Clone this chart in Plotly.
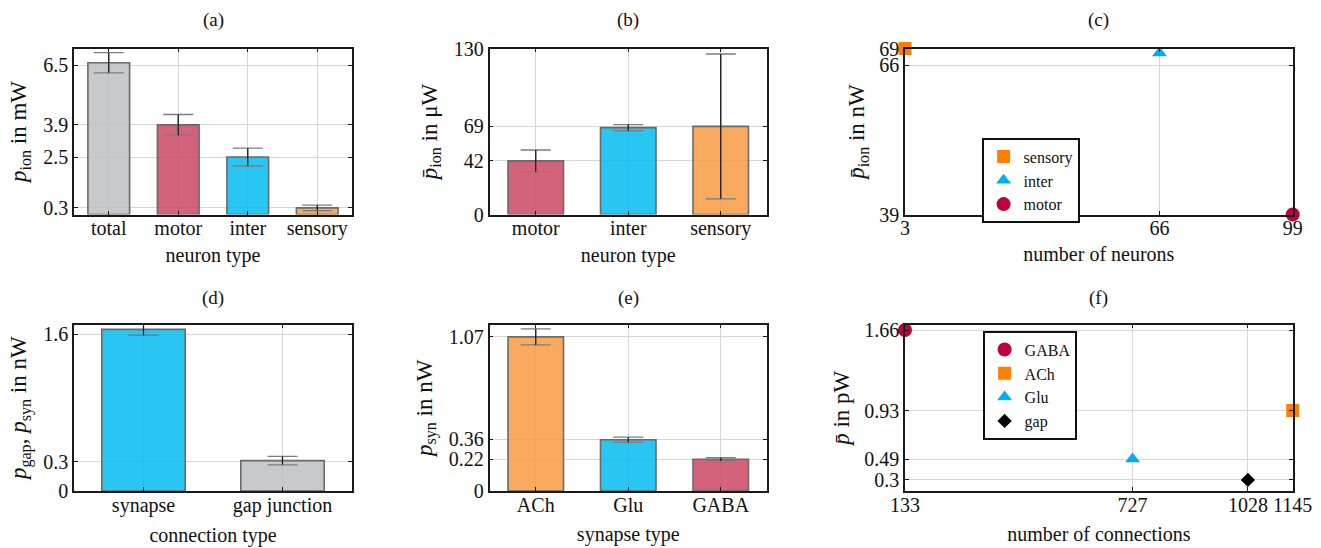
import plotly.graph_objects as go

# ---------------- data ----------------
# (a) ion power per neuron type
a_cats = ["total", "motor", "inter", "sensory"]
a_vals = [6.6, 3.9, 2.5, 0.29]
a_err = [0.44, 0.45, 0.39, 0.12]
a_ticks = [0.3, 2.5, 3.9, 6.5]

# (b) mean ion power per neuron
b_cats = ["motor", "inter", "sensory"]
b_vals = [42, 68, 69]
b_err = [8.5, 2.4, 56.7]
b_ticks = [0, 42, 69, 130]

# (c) mean ion power vs number of neurons
c_names = ["sensory", "inter", "motor"]
c_x = [3, 66, 99]
c_y = [69, 68.2, 39]
c_xticks = [3, 66, 99]
c_yticks = [39, 66, 69]

# (d) connection type
d_cats = ["synapse", "gap junction"]
d_vals = [1.65, 0.31]
d_err = [0.06, 0.043]
d_ticks = [0, 0.3, 1.6]

# (e) synapse type
e_cats = ["ACh", "Glu", "GABA"]
e_vals = [1.07, 0.356, 0.22]
e_err = [0.056, 0.018, 0.011]
e_ticks = [0, 0.22, 0.36, 1.07]

# (f) mean power vs number of connections
f_names = ["GABA", "ACh", "Glu", "gap"]
f_x = [133, 1145, 727, 1028]
f_y = [1.66, 0.93, 0.49, 0.3]
f_xticks = [133, 727, 1028, 1145]
f_yticks = [0.3, 0.49, 0.93, 1.66]

# ---------------- styles ----------------
FONT = "Liberation Serif"
OFF = 0  # page body margin removed via post_script
W, H = 1321, 548
ALPHA = 0.85


def rgba_for(display):
    r, g, b = display
    c = [max(0, min(255, round((v - (1 - ALPHA) * 255) / ALPHA))) for v in (r, g, b)]
    return f"rgba({c[0]},{c[1]},{c[2]},{ALPHA})"


BAR_GRAY = rgba_for((200, 201, 204))
BAR_PINK = rgba_for((212, 99, 122))
BAR_CYAN = rgba_for((41, 197, 243))
BAR_ORANGE = rgba_for((249, 170, 95))

M_ORANGE = "#FF8000"
M_CYAN = "#00AEEF"
M_RED = "#BE003C"
M_BLACK = "#000000"

GRID = "#d6d6d6"
EDGE = "#6b6b6b"

a_colors = [BAR_GRAY, BAR_PINK, BAR_CYAN, BAR_ORANGE]
b_colors = [BAR_PINK, BAR_CYAN, BAR_ORANGE]
d_colors = [BAR_CYAN, BAR_GRAY]
e_colors = [BAR_ORANGE, BAR_CYAN, BAR_PINK]

c_colors = [M_ORANGE, M_CYAN, M_RED]
c_symbols = ["square", "triangle-up", "circle"]
c_sizes = [13, 13, 14]
f_colors = [M_RED, M_ORANGE, M_CYAN, M_BLACK]
f_symbols = ["circle", "square", "triangle-up", "diamond"]
f_sizes = [14, 13, 13, 11]


def px_x(p):
    return (p - OFF) / W


def px_y(p):
    return 1 - (p - OFF) / H


dom_x = {
    "a": [px_x(74), px_x(352)],
    "b": [px_x(489.5), px_x(767)],
    "c": [px_x(905), px_x(1292.7)],
    "d": [px_x(74), px_x(352)],
    "e": [px_x(489.5), px_x(767)],
    "f": [px_x(905), px_x(1292.7)],
}
top_row = [px_y(214.5), px_y(48.5)]
bot_row = [px_y(491), px_y(324.5)]
dom_y = {"a": top_row, "b": top_row, "c": top_row,
         "d": bot_row, "e": bot_row, "f": bot_row}

axis_ids = {"a": ("x", "y", ""), "b": ("x2", "y2", "2"), "c": ("x3", "y3", "3"),
            "d": ("x4", "y4", "4"), "e": ("x5", "y5", "5"), "f": ("x6", "y6", "6")}

fig = go.Figure()


def add_bars(key, cats, vals, errs, colors):
    xa, ya, _ = axis_ids[key]
    fig.add_trace(go.Bar(x=cats, y=vals, width=0.6, xaxis=xa, yaxis=ya,
                         marker=dict(color=colors, line=dict(color=EDGE, width=1.6)),
                         showlegend=False, hoverinfo="skip"))
    # caps (gray)
    fig.add_trace(go.Scatter(x=cats, y=vals, mode="markers", xaxis=xa, yaxis=ya,
                             marker=dict(size=1, opacity=0), showlegend=False,
                             error_y=dict(type="data", array=errs, visible=True,
                                          color="#7d7d7d", thickness=1.3, width=15)))
    # whisker (black)
    fig.add_trace(go.Scatter(x=cats, y=vals, mode="markers", xaxis=xa, yaxis=ya,
                             marker=dict(size=1, opacity=0), showlegend=False,
                             error_y=dict(type="data", array=errs, visible=True,
                                          color="#111111", thickness=1.1, width=0)))


def add_points(key, names, xs, ys, colors, symbols, sizes, legend):
    xa, ya, _ = axis_ids[key]
    for n, x, y, c, s, sz in zip(names, xs, ys, colors, symbols, sizes):
        fig.add_trace(go.Scatter(x=[x], y=[y], mode="markers", name=n,
                                 xaxis=xa, yaxis=ya, legend=legend, cliponaxis=False,
                                 marker=dict(color=c, symbol=s, size=sz, line=dict(width=0))))


add_bars("a", a_cats, a_vals, a_err, a_colors)
add_bars("b", b_cats, b_vals, b_err, b_colors)
add_bars("d", d_cats, d_vals, d_err, d_colors)
add_bars("e", e_cats, e_vals, e_err, e_colors)
add_points("c", c_names, c_x, c_y, c_colors, c_symbols, c_sizes, "legend")
add_points("f", f_names, f_x, f_y, f_colors, f_symbols, f_sizes, "legend2")

common_axis = dict(showline=True, linecolor="#1a1a1a", linewidth=1.6, mirror="ticks",
                   ticks="inside", ticklen=4, tickcolor="#1a1a1a", tickwidth=1,
                   showgrid=True, gridcolor=GRID, gridwidth=1, zeroline=False,
                   automargin=False, ticklabeloverflow="allow",
                   tickfont=dict(family=FONT, size=20, color="#111"))

xtitles = {"a": "neuron type", "b": "neuron type", "c": "number of neurons",
           "d": "connection type", "e": "synapse type", "f": "number of connections"}
ytitles = {"a": "<i>p</i><sub>ion</sub> in mW",
           "b": "<i>p\u0304</i><sub>ion</sub> in \u03bcW",
           "c": "<i>p\u0304</i><sub>ion</sub> in nW",
           "d": "<i>p</i><sub>gap</sub>, <i>p</i><sub>syn</sub> in nW",
           "e": "<i>p</i><sub>syn</sub> in nW",
           "f": "<i>p\u0304</i> in pW"}

y_ranges = {"a": [0, 7.22], "b": [0, 130], "c": [39, 69], "d": [0, 1.70],
            "e": [0, 1.156], "f": [0.2, 1.71]}
y_ticks = {"a": a_ticks, "b": b_ticks, "c": c_yticks, "d": d_ticks, "e": e_ticks, "f": f_yticks}
x_ranges = {"a": [-0.5, 3.5], "b": [-0.5, 2.5], "c": [3, 99], "d": [-0.5, 1.5],
            "e": [-0.5, 2.5], "f": [133, 1145]}
y_standoff = {"a": 10, "b": 10, "c": 8, "d": 10, "e": 10, "f": 8}
x_standoff = {"a": 9, "b": 9, "c": 9, "d": 12, "e": 12, "f": 12}

layout_axes = {}
for key in "abcdef":
    xa, ya, suf = axis_ids[key]
    xax = dict(common_axis, domain=dom_x[key], range=x_ranges[key], anchor=ya,
               tickangle=0, ticklabelstandoff=-5,
               title=dict(text=xtitles[key], standoff=x_standoff[key],
                          font=dict(family=FONT, size=20, color="#111")))
    if key == "c":
        xax.update(tickvals=c_xticks, ticktext=[str(v) for v in c_xticks])
    elif key == "f":
        xax.update(tickvals=f_xticks, ticktext=[str(v) for v in f_xticks])
    else:
        xax.update(type="category")
    yax = dict(common_axis, domain=dom_y[key], range=y_ranges[key], anchor=xa,
               tickvals=y_ticks[key], ticktext=[str(v) for v in y_ticks[key]],
               title=dict(text=ytitles[key], standoff=y_standoff[key],
                          font=dict(family=FONT, size=23, color="#111")))
    layout_axes["xaxis" + suf] = xax
    layout_axes["yaxis" + suf] = yax

fig.update_layout(**layout_axes)

# panel labels
labels = {"a": "(a)", "b": "(b)", "c": "(c)", "d": "(d)", "e": "(e)", "f": "(f)"}
annots = []
for key in "abcdef":
    cx = (dom_x[key][0] + dom_x[key][1]) / 2
    cy = px_y(20) if key in "abc" else px_y(298)
    annots.append(dict(text=labels[key], x=cx, y=cy, xref="paper", yref="paper",
                       showarrow=False, xanchor="center", yanchor="middle",
                       font=dict(family=FONT, size=19, color="#111")))

legend_style = dict(bgcolor="white", bordercolor="#111", borderwidth=1.6,
                    font=dict(family=FONT, size=16, color="#111"),
                    xanchor="left", yanchor="top", itemwidth=30,
                    tracegroupgap=0)

fig.update_layout(
    width=W, height=H,
    margin=dict(l=0, r=0, t=0, b=0),
    paper_bgcolor="white", plot_bgcolor="white",
    barmode="overlay",
    annotations=annots,
    legend=dict(legend_style, x=px_x(982), y=px_y(138)),
    legend2=dict(legend_style, x=px_x(983), y=px_y(331)),
    font=dict(family=FONT, size=18, color="#111"),
)

fig.write_html("out.html",
               config={"displayModeBar": False},
               post_script="document.body.style.margin='0';document.body.style.overflow='hidden';")
